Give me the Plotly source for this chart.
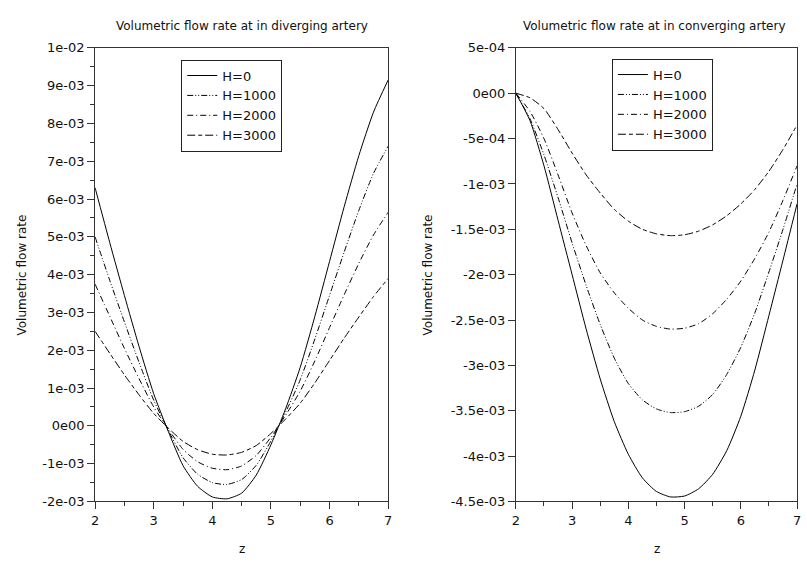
import plotly.graph_objects as go

# ---------------- data (values in units of 1e-3) ----------------
z = [2.0, 2.25, 2.5, 2.75, 3.0, 3.25, 3.5, 3.75, 4.0, 4.25, 4.5,
     4.75, 5.0, 5.25, 5.5, 5.75, 6.0, 6.25, 6.5, 6.75, 7.0]

div_H0 = [6.3, 4.85, 3.45, 2.1, 0.85, -0.15, -1.05, -1.6, -1.88, -1.93, -1.78,
          -1.3, -0.5, 0.45, 1.55, 2.9, 4.35, 5.8, 7.15, 8.3, 9.15]
div_H1000 = [5.0, 3.85, 2.75, 1.68, 0.68, -0.12, -0.84, -1.28, -1.5, -1.55, -1.42,
             -1.04, -0.4, 0.36, 1.22, 2.3, 3.45, 4.6, 5.7, 6.68, 7.4]
div_H2000 = [3.75, 2.9, 2.05, 1.25, 0.5, -0.09, -0.62, -0.95, -1.12, -1.16, -1.06,
             -0.78, -0.3, 0.28, 0.92, 1.72, 2.6, 3.47, 4.3, 5.05, 5.65]
div_H3000 = [2.5, 1.92, 1.35, 0.82, 0.33, -0.06, -0.41, -0.63, -0.75, -0.77, -0.7,
             -0.52, -0.2, 0.18, 0.6, 1.14, 1.73, 2.32, 2.88, 3.42, 3.9]

con_H0 = [0.0, -0.3, -0.8, -1.4, -2.0, -2.6, -3.15, -3.62, -3.98, -4.24, -4.39,
          -4.45, -4.44, -4.36, -4.2, -3.94, -3.56, -3.05, -2.45, -1.84, -1.22]
con_H1000 = [0.0, -0.28, -0.68, -1.15, -1.65, -2.12, -2.55, -2.92, -3.2, -3.38, -3.48,
             -3.52, -3.51, -3.45, -3.32, -3.1, -2.8, -2.42, -1.97, -1.5, -1.0]
con_H2000 = [0.0, -0.2, -0.5, -0.9, -1.32, -1.68, -1.98, -2.2, -2.37, -2.5, -2.57,
             -2.6, -2.59, -2.54, -2.43, -2.27, -2.07, -1.82, -1.53, -1.18, -0.8]
con_H3000 = [0.0, -0.05, -0.17, -0.4, -0.66, -0.9, -1.1, -1.28, -1.41, -1.5, -1.55,
             -1.57, -1.56, -1.52, -1.45, -1.35, -1.22, -1.06, -0.86, -0.62, -0.35]

names = ["H=0", "H=1000", "H=2000", "H=3000"]

left_ticks = [10, 9, 8, 7, 6, 5, 4, 3, 2, 1, 0, -1, -2]
left_ticktext = ["1e-02", "9e-03", "8e-03", "7e-03", "6e-03", "5e-03", "4e-03",
                 "3e-03", "2e-03", "1e-03", "0e00", "-1e-03", "-2e-03"]
right_ticks = [0.5, 0, -0.5, -1, -1.5, -2, -2.5, -3, -3.5, -4, -4.5]
right_ticktext = ["5e-04", "0e00", "-5e-04", "-1e-03", "-1.5e-03", "-2e-03",
                  "-2.5e-03", "-3e-03", "-3.5e-03", "-4e-03", "-4.5e-03"]
x_ticks = [2, 3, 4, 5, 6, 7]

# ---------------- figure ----------------
W, H = 807, 563
dashes = ["solid", "6px,2px,1px,2px,1px,2px", "6px,3px,1px,3px", "8px,3px,4px,3px"]

fig = go.Figure()
div = [div_H0, div_H1000, div_H2000, div_H3000]
con = [con_H0, con_H1000, con_H2000, con_H3000]
for i in range(4):
    fig.add_trace(go.Scatter(
        x=z, y=[v * 1e-3 for v in div[i]], mode="lines", name=names[i],
        line=dict(color="black", width=1, dash=dashes[i], shape="spline", smoothing=0.6),
        xaxis="x", yaxis="y", legend="legend"))
for i in range(4):
    fig.add_trace(go.Scatter(
        x=z, y=[v * 1e-3 for v in con[i]], mode="lines", name=names[i],
        line=dict(color="black", width=1, dash=dashes[i], shape="spline", smoothing=0.6),
        xaxis="x2", yaxis="y2", legend="legend2"))

def px(x):
    return x / W

def py(y):
    return 1 - y / H

font_tick = dict(family="DejaVu Sans", size=13, color="#111111")
axis_common = dict(showline=True, linecolor="#333333", linewidth=1, mirror=True,
                   ticks="outside", ticklen=7, tickcolor="#333333", tickwidth=1,
                   showgrid=False, zeroline=False, tickfont=font_tick)

legend_common = dict(xanchor="left", yanchor="top",
                     bordercolor="#222222", borderwidth=1, bgcolor="white",
                     font=dict(family="DejaVu Sans", size=13, color="#111111"),
                     tracegroupgap=0, itemwidth=30)

fig.update_layout(
    width=W, height=H,
    margin=dict(l=0, r=0, t=0, b=0),
    paper_bgcolor="white", plot_bgcolor="white",
    xaxis=dict(domain=[px(92), px(388)], range=[2, 7], tickvals=x_ticks, anchor="y",
               minor=dict(dtick=0.5, ticklen=4, ticks="outside", tickcolor="#333333"),
               **axis_common),
    yaxis=dict(domain=[py(508), py(42)], range=[-2e-3, 1e-2], anchor="x",
               tickvals=[v * 1e-3 for v in left_ticks], ticktext=left_ticktext,
               minor=dict(dtick=5e-4, ticklen=4, ticks="outside", tickcolor="#333333"),
               **axis_common),
    xaxis2=dict(domain=[px(517), px(801)], range=[2, 7], tickvals=x_ticks, anchor="y2",
                minor=dict(dtick=0.5, ticklen=4, ticks="outside", tickcolor="#333333"),
                **axis_common),
    yaxis2=dict(domain=[py(508), py(42)], range=[-4.5e-3, 5e-4], anchor="x2",
                tickvals=[v * 1e-3 for v in right_ticks], ticktext=right_ticktext,
                **axis_common),
    legend=dict(x=px(179), y=py(54), **legend_common),
    legend2=dict(x=px(614), y=py(53), **legend_common),
    showlegend=True,
)

title_font = dict(family="DejaVu Sans", size=12, color="#111111")
label_font = dict(family="DejaVu Sans", size=12, color="#111111")
annots = [
    dict(text="Volumetric flow rate at in diverging artery", x=px(240), y=py(20),
         font=title_font),
    dict(text="Volumetric flow rate at in converging artery", x=px(657), y=py(20),
         font=title_font),
    dict(text="Volumetric flow rate", x=px(18), y=py(275), textangle=-90, font=label_font),
    dict(text="Volumetric flow rate", x=px(428), y=py(275), textangle=-90, font=label_font),
    dict(text="z", x=px(240), y=py(557), font=label_font),
    dict(text="z", x=px(660), y=py(557), font=label_font),
]
for a in annots:
    fig.add_annotation(xref="paper", yref="paper", showarrow=False,
                       xanchor="center", yanchor="middle", **a)

fig.write_html("out.html")
